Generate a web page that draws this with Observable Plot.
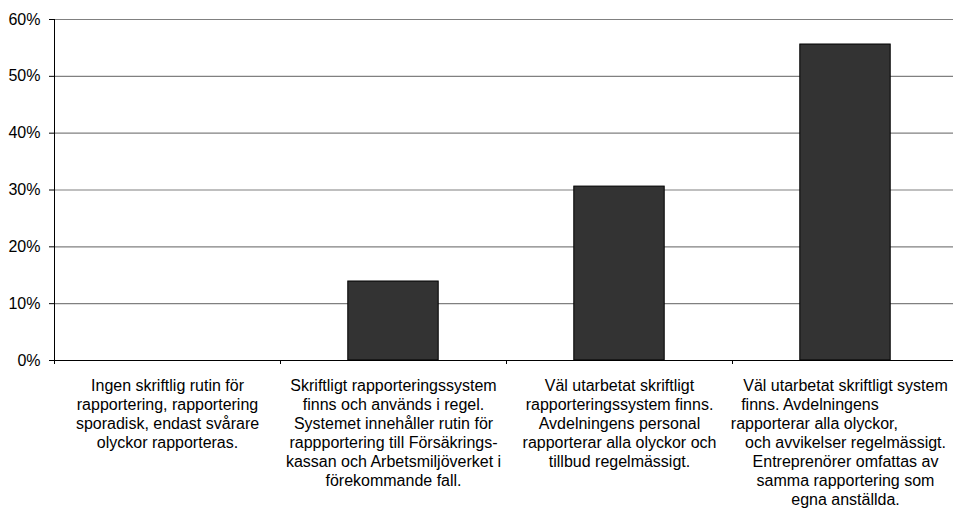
<!DOCTYPE html>
<html>
<head>
<meta charset="utf-8">
<script src="https://cdn.jsdelivr.net/npm/d3@7"></script>
<script src="https://cdn.jsdelivr.net/npm/@observablehq/plot@0.6"></script>
<style>
  html, body { margin: 0; padding: 0; background: #fff; }
</style>
</head>
<body>
<div id="chart"></div>
<script>
const NB = "\u00a0";
const categories = [
  "Ingen skriftlig rutin för\nrapportering, rapportering\nsporadisk, endast svårare\nolyckor rapporteras.",
  "Skriftligt rapporteringssystem\nfinns och används i regel.\nSystemet innehåller rutin för\nrappportering till Försäkrings-\nkassan och Arbetsmiljöverket i\nförekommande fall.",
  "Väl utarbetat skriftligt\nrapporteringssystem finns.\nAvdelningens personal\nrapporterar alla olyckor och\ntillbud regelmässigt.",
  "Väl utarbetat skriftligt system\nfinns. Avdelningens" + NB.repeat(16) + "\nrapporterar alla olyckor," + NB.repeat(14) + "\noch avvikelser regelmässigt.\nEntreprenörer omfattas av\nsamma rapportering som\negna anställda."
];
const values = [0, 0.139, 0.306, 0.556];
const yTicks = [0, 0.1, 0.2, 0.3, 0.4, 0.5, 0.6];
const xBoundaries = [0, 1, 2, 3, 4];

const data = categories.map((label, i) => ({ i, label, value: values[i] }));

const chart = Plot.plot({
  width: 953,
  height: 509,
  marginTop: 19,
  marginBottom: 149,
  marginLeft: 54,
  marginRight: 0,
  style: { fontFamily: "'Liberation Sans', Arial, sans-serif", fontSize: "16px", color: "#000", background: "#fff" },
  x: { domain: [0, 4], range: [54, 958] },
  y: { domain: [0, 0.6] },
  marks: [
    Plot.ruleY(yTicks.slice(1), { stroke: "#808080", strokeWidth: 1.2 }),
    Plot.rectY(data, { x1: d => d.i + 0.3, x2: d => d.i + 0.7, y: "value", fill: "#333333", stroke: "#000", strokeWidth: 1 }),
    Plot.ruleY([0], { stroke: "#000" }),
    Plot.ruleX([0], { stroke: "#000", y1: 0, y2: 0.6 }),
    Plot.axisY({ ticks: yTicks, tickFormat: d3.format(".0%"), tickSize: 5, tickPadding: 9, fontSize: 16, label: null }),
    Plot.axisX({ ticks: xBoundaries, tickFormat: () => "", tickSize: 4, anchor: "bottom", label: null }),
    Plot.text(data, { x: d => d.i + 0.5, y: 0, text: "label", dy: 17, lineAnchor: "top", lineHeight: 1.19, fontSize: 16, textAnchor: "middle", fill: "#000" })
  ]
});
document.getElementById("chart").appendChild(chart);
</script>
</body>
</html>
